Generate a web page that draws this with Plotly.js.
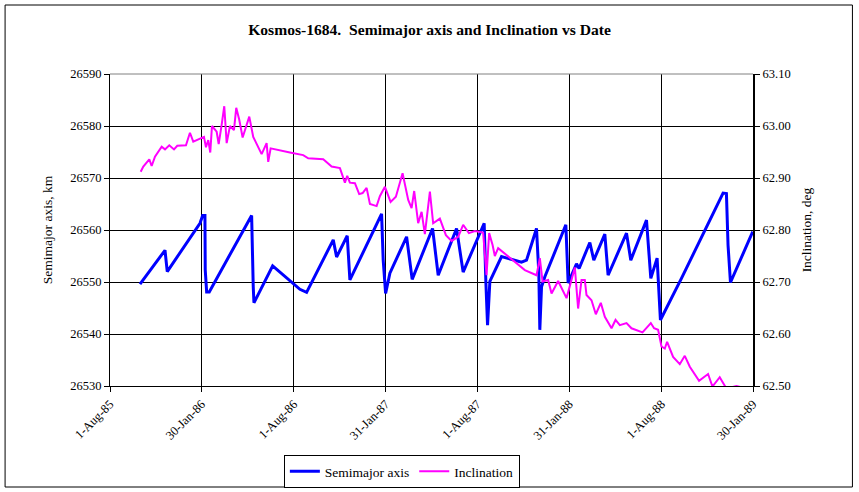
<!DOCTYPE html>
<html>
<head>
<meta charset="utf-8">
<script src="https://cdn.plot.ly/plotly-3.0.1.min.js"></script>
<style>
  html, body { margin: 0; padding: 0; background: #fff; }
  #chart { width: 859px; height: 492px; }
</style>
</head>
<body>
<div id="chart"></div>
<script>
// ---- Data (days since 1-Aug-1985) ----
const smaDays = [59.6, 92.8, 105.9, 109.3, 113.8, 178.8, 184.2, 188.7, 189.3, 192.1, 197.3,
  281.5, 284.7, 286.1, 323.3, 377.5, 390.8, 423.8, 443.7, 450.4, 471.5, 476.8, 519.9,
  539.8, 543.0, 547.8, 556.3, 589.5, 600.6, 641.1, 652.3, 688.8, 701.9, 743.7, 747.0,
  750.4, 755.0, 778.2, 817.9, 827.9, 847.7, 852.3, 854.3, 857.7, 864.3, 906.0, 910.6,
  927.2, 932.4, 953.7, 961.6, 983.5, 990.0, 1026.6, 1035.1, 1066.3, 1074.9, 1087.4,
  1094.0, 1135.8, 1218.5, 1225.2, 1228.4, 1233.2, 1277.5];
const smaKm = [26549.6, 26553.9, 26555.8, 26556.1, 26552.0, 26561.3, 26562.8, 26562.8, 26552.3, 26548.1, 26548.1,
  26562.8, 26549.1, 26546.0, 26553.1, 26548.6, 26548.0, 26554.2, 26558.1, 26554.8, 26558.9, 26550.4, 26559.0,
  26563.1, 26554.2, 26547.8, 26551.7, 26558.7, 26550.5, 26560.3, 26551.3, 26560.3, 26551.9, 26561.3, 26550.1,
  26541.7, 26550.1, 26554.9, 26553.8, 26554.2, 26560.3, 26551.7, 26540.8, 26549.1, 26551.0, 26561.0, 26549.8,
  26553.5, 26552.6, 26557.6, 26554.2, 26559.2, 26551.3, 26559.4, 26554.2, 26561.9, 26550.7, 26554.6,
  26542.7, 26550.7, 26567.1, 26567.0, 26557.1, 26549.9, 26559.7];

const incDays = [61.0, 66.2, 78.1, 82.8, 89.4, 102.7, 109.3, 117.8, 127.2, 133.7, 151.0, 158.9, 165.5,
  178.8, 186.8, 190.7, 195.3, 199.3, 202.7, 212.0, 216.0, 221.9, 227.1, 231.9, 238.4, 246.4, 250.9,
  256.9, 263.6, 276.8, 284.7, 301.4, 311.3, 314.5, 319.3, 357.6, 384.0, 394.0, 423.8, 440.5, 457.0,
  466.9, 471.5, 476.8, 486.8, 495.3, 502.1, 510.0, 516.6, 529.9, 536.4, 546.4, 557.7, 568.2, 581.5,
  592.7, 599.4, 604.6, 612.5, 619.3, 625.8, 635.8, 642.3, 655.6, 667.6, 678.9, 692.0, 701.9, 713.3,
  725.2, 741.6, 748.4, 753.6, 760.4, 764.9, 771.5, 794.7, 824.5, 847.8, 854.3, 859.7, 870.8, 877.6,
  890.7, 907.4, 913.9, 923.9, 930.4, 937.2, 943.7, 947.1, 957.0, 965.6, 975.5, 983.5, 996.8, 1004.8,
  1013.3, 1026.6, 1036.5, 1058.4, 1074.9, 1081.4, 1089.4, 1096.1, 1102.7, 1107.3, 1119.2, 1132.5,
  1142.4, 1152.4, 1170.8, 1188.7, 1197.4, 1211.9, 1225.2, 1245.1, 1261.6];
const incDeg = [62.912, 62.922, 62.936, 62.923, 62.941, 62.960, 62.955, 62.963, 62.955, 62.962, 62.963, 62.987, 62.970,
  62.975, 62.979, 62.959, 62.973, 62.949, 63.000, 62.989, 62.965, 63.002, 63.038, 62.967, 63.000, 62.992, 63.035,
  63.012, 62.978, 63.018, 62.979, 62.946, 62.967, 62.931, 62.957, 62.949, 62.944, 62.938, 62.936, 62.922, 62.919,
  62.891, 62.904, 62.891, 62.890, 62.869, 62.871, 62.881, 62.850, 62.846, 62.865, 62.883, 62.854, 62.864, 62.909,
  62.858, 62.842, 62.875, 62.813, 62.835, 62.792, 62.874, 62.813, 62.822, 62.790, 62.779, 62.787, 62.810, 62.794,
  62.798, 62.795, 62.713, 62.794, 62.771, 62.750, 62.765, 62.746, 62.723, 62.713, 62.746, 62.701, 62.704, 62.678,
  62.702, 62.669, 62.691, 62.728, 62.649, 62.704, 62.704, 62.675, 62.665, 62.638, 62.660, 62.633, 62.611, 62.627,
  62.617, 62.621, 62.611, 62.603, 62.621, 62.611, 62.608, 62.576, 62.572, 62.585, 62.556, 62.542,
  62.558, 62.537, 62.510, 62.523, 62.499, 62.517, 62.495, 62.500, 62.496];

const tickDates = ['1985-08-01', '1986-01-30', '1986-08-01', '1987-01-31', '1987-08-01', '1988-01-31', '1988-08-01', '1989-01-30'];
const tickLabels = ['1-Aug-85', '30-Jan-86', '1-Aug-86', '31-Jan-87', '1-Aug-87', '31-Jan-88', '1-Aug-88', '30-Jan-89'];

const leftTicks = [26530, 26540, 26550, 26560, 26570, 26580, 26590];
const rightTicks = [62.5, 62.6, 62.7, 62.8, 62.9, 63.0, 63.1];

// ---- helpers ----
const base = Date.UTC(1985, 7, 1);
function toDate(d) {
  const t = new Date(base + d * 86400000);
  return t.toISOString().slice(0, 19).replace('T', ' ');
}

const FONT = 'Liberation Serif, Times New Roman, serif';

// pixel layout of reference
const W = 859, H = 492;
const L = 110, R = 753.5, T = 74, B = 386;
const pw = R - L, ph = B - T;
const px = x => (x - L) / pw;
const py = y => (B - y) / ph;

const traces = [
  {
    name: 'Semimajor axis',
    x: smaDays.map(toDate), y: smaKm,
    type: 'scatter', mode: 'lines',
    line: { color: '#0000FF', width: 3 },
    xaxis: 'x', yaxis: 'y'
  },
  {
    name: 'Inclination',
    x: incDays.map(toDate), y: incDeg,
    type: 'scatter', mode: 'lines',
    line: { color: '#FF00FF', width: 2 },
    xaxis: 'x', yaxis: 'y2'
  }
];

const layout = {
  width: W, height: H,
  margin: { l: L, r: W - R, t: T, b: H - B, pad: 0, autoexpand: false },
  paper_bgcolor: '#fff', plot_bgcolor: '#fff',
  font: { family: FONT, size: 12, color: '#000' },
  showlegend: true,
  title: {
    text: '<b>Kosmos-1684.  Semimajor axis and Inclination vs Date</b>',
    font: { family: FONT, size: 15.6, color: '#000' },
    x: 0.5, xref: 'container', xanchor: 'center',
    y: 1 - 30 / H, yref: 'container', yanchor: 'middle'
  },
  xaxis: {
    type: 'date',
    range: [toDate(0), toDate(1278)],
    tickmode: 'array', tickvals: tickDates, ticktext: tickLabels,
    tickangle: -45,
    ticks: 'outside', ticklen: 5, tickcolor: '#000', tickwidth: 1,
    showline: true, linecolor: '#000', linewidth: 1,
    showgrid: true, gridcolor: '#000', gridwidth: 1,
    zeroline: false,
    tickfont: { family: FONT, size: 12.5, color: '#000' },
    automargin: false
  },
  yaxis: {
    range: [26530, 26590],
    tickmode: 'array', tickvals: leftTicks, ticktext: leftTicks.map(String),
    ticks: 'outside', ticklen: 5, tickcolor: '#000', tickwidth: 1,
    showline: true, linecolor: '#000', linewidth: 1,
    showgrid: true, gridcolor: '#000', gridwidth: 1,
    zeroline: false,
    tickfont: { family: FONT, size: 12.5, color: '#000' },
    title: { text: 'Semimajor axis, km', font: { family: FONT, size: 13.5, color: '#000' }, standoff: 14 },
    automargin: false
  },
  yaxis2: {
    range: [62.5, 63.1],
    overlaying: 'y', side: 'right',
    tickmode: 'array', tickvals: rightTicks, ticktext: rightTicks.map(v => v.toFixed(2)),
    ticks: 'outside', ticklen: 5, tickcolor: '#000', tickwidth: 1,
    showline: true, linecolor: '#000', linewidth: 2,
    showgrid: false, zeroline: false,
    tickfont: { family: FONT, size: 12.5, color: '#000' },
    title: { text: 'Inclination, deg', font: { family: FONT, size: 13.5, color: '#000' }, standoff: 12 },
    automargin: false
  },
  legend: {
    orientation: 'h',
    x: px(284), xanchor: 'left',
    y: py(455), yanchor: 'top',
    bordercolor: '#000', borderwidth: 1, bgcolor: '#fff',
    font: { family: FONT, size: 13.5, color: '#000' },
    traceorder: 'normal'
  },
  shapes: [
    { type: 'rect', xref: 'paper', yref: 'paper', layer: 'below',
      x0: px(5), x1: px(853), y0: py(487), y1: py(5),
      line: { color: '#000', width: 1 }, fillcolor: 'rgba(0,0,0,0)' },
    { type: 'line', xref: 'paper', yref: 'paper', layer: 'above',
      x0: 0, x1: 1, y0: 1, y1: 1,
      line: { color: '#808080', width: 1 } }
  ]
};

Plotly.newPlot('chart', traces, layout, { staticPlot: true, displayModeBar: false });
</script>
</body>
</html>
